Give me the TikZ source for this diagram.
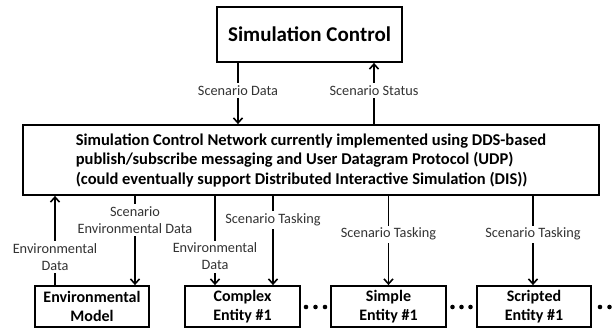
\documentclass[tikz,border=0pt]{standalone}
\usepackage{fontspec}
\setmainfont{Carlito}
\usepackage{tikz}
\usetikzlibrary{arrows.meta}
\usetikzlibrary{calc}
\tikzset{
	edge/.style={-{Straight Barb[length=5pt,width=9pt]}, line width=1.6pt},
	plain/.style={line width=1.6pt}
}
\tikzset{
	box/.style={draw, line width=1.8pt, align=center, inner sep=0pt, font=\fontsize{16}{19}\selectfont\bfseries},
	tag/.style={fill=white, text=black!80, align=center, inner sep=2.5pt, font=\fontsize{14.3}{17}\selectfont},
	dot/.style={fill, circle, minimum size=4.6pt, inner sep=0pt}
}

\begin{document}
\begin{tikzpicture}[x=1pt, y=-1pt]
\useasboundingbox (0,0) rectangle (613,331);
\node[box, minimum width=185pt, minimum height=55pt, font=\fontsize{21}{25}\selectfont\bfseries] (ctrl) at (309.5, 34.5) {Simulation Control};
\node[box, minimum width=576pt, minimum height=70pt, align=left, font=\fontsize{16.5}{19.5}\selectfont\bfseries] (net) at (311, 160) {Simulation Control Network currently implemented using DDS-based\\publish/subscribe messaging and User Datagram Protocol (UDP)\\(could eventually support Distributed Interactive Simulation (DIS))};
\node[box, minimum width=114pt, minimum height=41pt] (env) at (92, 306.5) {Environmental\\Model};
\node[box, minimum width=115pt, minimum height=41pt] (cplx) at (242.5, 306.5) {Complex\\Entity \#1};
\node[box, minimum width=115pt, minimum height=41pt] (simp) at (388.5, 306.5) {Simple\\Entity \#1};
\node[box, minimum width=114pt, minimum height=41pt] (scr) at (534, 306.5) {Scripted\\Entity \#1};

\foreach \x [count=\i] in {306, 315.5, 325, 452.5, 461.5, 470.5, 600, 609.5}
	\node[dot] (d\i) at (\x, 307) {};

\draw[edge] ([xshift=-71.5pt]ctrl.south) to node[tag, pos=0.45] {Scenario Data} ([xshift=-71.5pt]ctrl.south |- net.north);
\draw[edge] ([xshift=64.5pt]ctrl.south |- net.north) to node[tag, pos=0.55] {Scenario Status} ([xshift=64.5pt]ctrl.south);

\draw[edge] ([xshift=-37pt]env.north) to node[tag, pos=0.31] {Environmental\\Data} ([xshift=-37pt]env.north |- net.south);
\draw[edge] ([xshift=43pt]env.north |- net.south) to node[tag, pos=0.27] {Scenario\\Environmental Data} ([xshift=43pt]env.north);
\draw[edge] ([xshift=-27.5pt]cplx.north |- net.south) to node[tag, pos=0.68] {Environmental\\Data} ([xshift=-27.5pt]cplx.north);
\draw[edge] ([xshift=30.5pt]cplx.north |- net.south) to node[tag, pos=0.27] {Scenario Tasking} ([xshift=30.5pt]cplx.north);
\draw[edge] (simp.north |- net.south) to node[tag, pos=0.43] {Scenario Tasking} (simp.north);
\draw[edge] ([xshift=-1pt]scr.north |- net.south) to node[tag, pos=0.43] {Scenario Tasking} ([xshift=-1pt]scr.north);
\end{tikzpicture}
\end{document}
